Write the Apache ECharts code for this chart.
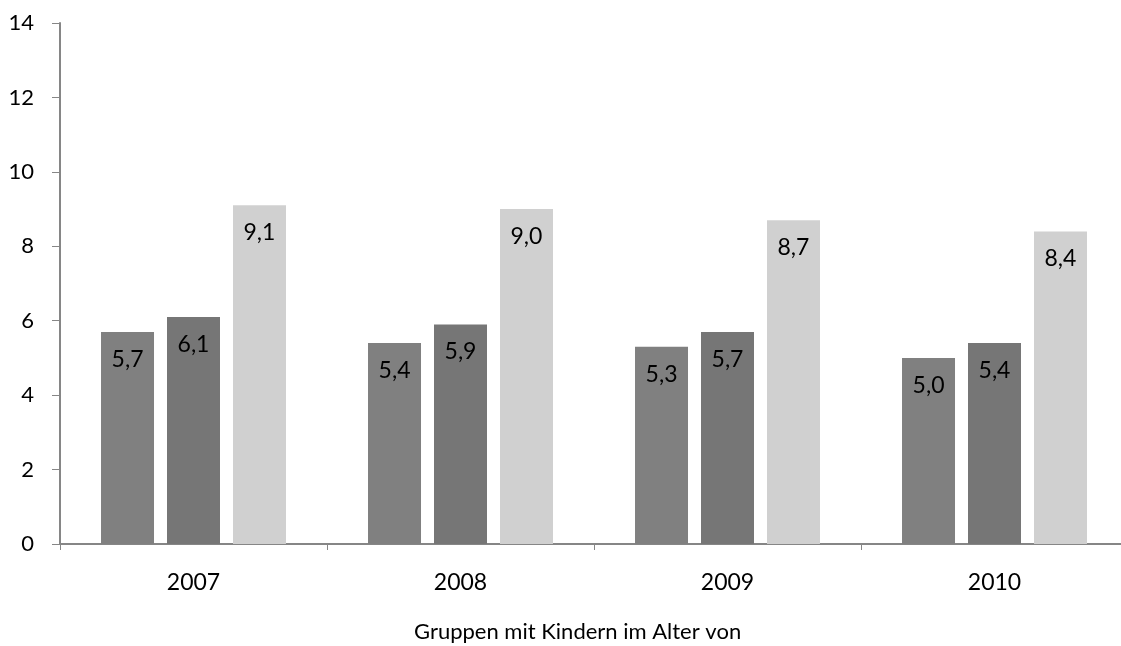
<!DOCTYPE html>
<html>
<head>
<meta charset="utf-8">
<script src="https://cdn.jsdelivr.net/npm/echarts@6/dist/echarts.min.js"></script>
<style>
  html, body { margin: 0; padding: 0; background: #fff; }
  #chart { width: 1121px; height: 646px; }
</style>
</head>
<body>
<div id="chart"></div>
<script>
  // Kategorien (Jahre)
  const years = ['2007', '2008', '2009', '2010']
  // drei Gruppen pro Jahr
  const groupA = [5.7, 5.4, 5.3, 5.0]
  const groupB = [6.1, 5.9, 5.7, 5.4]
  const groupC = [9.1, 9.0, 8.7, 8.4]
  const yTicks = [0, 2, 4, 6, 8, 10, 12, 14]
  const axisName = 'Gruppen mit Kindern im Alter von'

  const font = 'Lato, "Open Sans", sans-serif'
  const chart = echarts.init(document.getElementById('chart'))

  const label = {
    show: true,
    position: 'insideTop',
    distance: 16,
    color: '#000',
    fontFamily: font,
    fontSize: 23,
    formatter: function (p) {
      return p.value.toFixed(1).replace('.', ',')
    }
  }

  function bar(data, color) {
    return {
      type: 'bar',
      data: data,
      barWidth: 53,
      barGap: '24.5%',
      itemStyle: { color: color },
      label: label,
      animation: false
    }
  }

  chart.setOption({
    animation: false,
    // rechter Rand liegt ausserhalb des Bildes
    grid: { left: 60, right: -7, top: 23, bottom: 102, outerBoundsMode: 'none', containLabel: false },
    graphic: [{
      type: 'text',
      left: 414,
      top: 621,
      style: { text: axisName, fill: '#000', font: '22px ' + font }
    }],
    xAxis: {
      type: 'category',
      data: years,
      axisLine: { lineStyle: { color: '#868686', width: 2 } },
      axisTick: { show: true, length: 6, lineStyle: { color: '#868686' } },
      axisLabel: { color: '#000', fontFamily: font, fontSize: 23, margin: 27 }
    },
    yAxis: {
      type: 'value',
      min: yTicks[0],
      max: yTicks[yTicks.length - 1],
      interval: 2,
      splitLine: { show: false },
      axisLine: { show: true, lineStyle: { color: '#868686', width: 2 } },
      axisTick: { show: true, length: 8, lineStyle: { color: '#868686' } },
      axisLabel: { color: '#000', fontFamily: font, fontSize: 22, margin: 26 }
    },
    series: [
      bar(groupA, '#808080'),
      bar(groupB, '#767676'),
      bar(groupC, '#d0d0d0')
    ]
  })
</script>
</body>
</html>
